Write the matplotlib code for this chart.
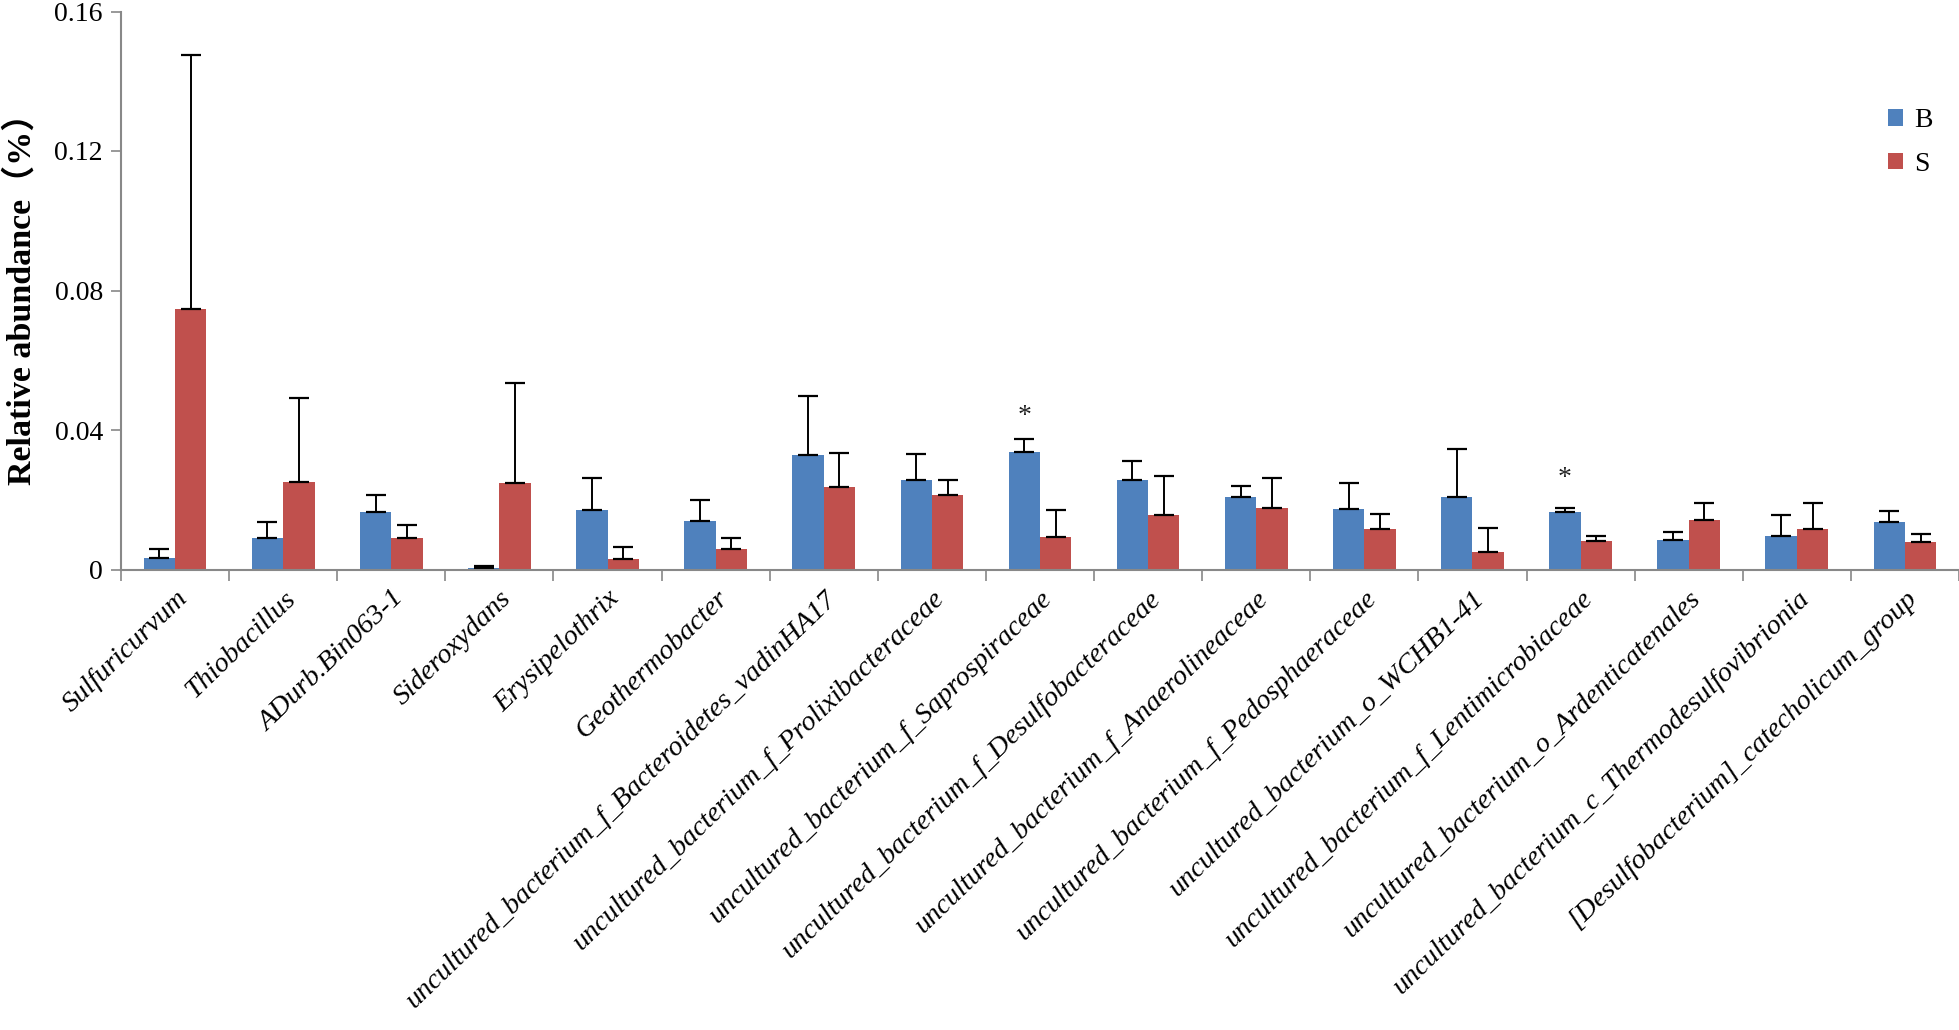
import matplotlib
matplotlib.use("Agg")
import matplotlib.pyplot as plt
import numpy as np

categories = [
    "Sulfuricurvum", "Thiobacillus", "ADurb.Bin063-1", "Sideroxydans",
    "Erysipelothrix", "Geothermobacter",
    "uncultured_bacterium_f_Bacteroidetes_vadinHA17",
    "uncultured_bacterium_f_Prolixibacteraceae",
    "uncultured_bacterium_f_Saprospiraceae",
    "uncultured_bacterium_f_Desulfobacteraceae",
    "uncultured_bacterium_f_Anaerolineaceae",
    "uncultured_bacterium_f_Pedosphaeraceae",
    "uncultured_bacterium_o_WCHB1-41",
    "uncultured_bacterium_f_Lentimicrobiaceae",
    "uncultured_bacterium_o_Ardenticatenales",
    "uncultured_bacterium_c_Thermodesulfovibrionia",
    "[Desulfobacterium]_catecholicum_group",
]
B_mean = [0.0034, 0.0089, 0.0166, 0.0005, 0.0172, 0.0140, 0.0328, 0.0257, 0.0336,
          0.0257, 0.0209, 0.0173, 0.0209, 0.0165, 0.0085, 0.0097, 0.0137]
B_err = [0.0026, 0.0048, 0.0049, 0.0004, 0.0090, 0.0058, 0.0170, 0.0074, 0.0038,
         0.0054, 0.0030, 0.0075, 0.0137, 0.0010, 0.0023, 0.0059, 0.0031]
S_mean = [0.0747, 0.0252, 0.0089, 0.0248, 0.0029, 0.0060, 0.0237, 0.0213, 0.0092,
          0.0157, 0.0176, 0.0117, 0.0050, 0.0082, 0.0141, 0.0117, 0.0078]
S_err = [0.0727, 0.0239, 0.0039, 0.0288, 0.0035, 0.0031, 0.0098, 0.0043, 0.0079,
         0.0110, 0.0087, 0.0043, 0.0069, 0.0013, 0.0051, 0.0075, 0.0023]
sig_idx = [8, 13]
sig_y = [0.0440, 0.0260]
yticks = [0, 0.04, 0.08, 0.12, 0.16]
ytick_labels = ["0", "0.04", "0.08", "0.12", "0.16"]

serif = ["Liberation Serif", "Noto Sans CJK SC", "DejaVu Serif"]
plt.rcParams["font.family"] = serif

fig = plt.figure(figsize=(19.59, 10.30), dpi=100)
ax = fig.add_axes([121 / 1959, 1 - 569.5 / 1030, 1 - 121 / 1959, (569.5 - 11.5) / 1030])

x = np.arange(len(categories))
w = 0.29
blue = "#4F81BD"
red = "#C0504D"
zeros = np.zeros(len(categories))
ekw = dict(ecolor="black", elinewidth=1.4, capsize=7, capthick=1.6)
ax.bar(x - w / 2, B_mean, w, color=blue, label="B", zorder=2, yerr=[zeros, B_err], error_kw=ekw)
ax.bar(x + w / 2, S_mean, w, color=red, label="S", zorder=2, yerr=[zeros, S_err], error_kw=ekw)

for i, yv in zip(sig_idx, sig_y):
    ax.text(x[i] - w / 2, yv, "*", ha="center", va="center", fontsize=20, color="#222222")

ax.set_xlim(-0.5, len(categories) - 0.5)
ax.set_ylim(0, 0.16)
ax.set_yticks(yticks)
ax.set_yticklabels(ytick_labels, fontsize=20)
ax.set_xticks(np.arange(-0.5, len(categories), 1.0))
ax.set_xticklabels([])
ax.set_xticks(x, minor=True)
ax.set_xticklabels(categories, minor=True, rotation=44, ha="right", va="top",
                   rotation_mode="anchor", fontsize=20.5, style="italic")
ax.tick_params(axis="x", which="minor", length=0, pad=12)
ax.tick_params(axis="x", which="major", length=8, width=1.2, color="#888888", direction="out")
ax.tick_params(axis="y", length=7, width=1.2, color="#888888", direction="out", pad=6)

for s in ["top", "right"]:
    ax.spines[s].set_visible(False)
for s in ["left", "bottom"]:
    ax.spines[s].set_color("#888888")
    ax.spines[s].set_linewidth(1.5)

ax.set_ylabel("Relative abundance（%）", fontsize=24.5, fontweight="bold", labelpad=12)

leg = ax.legend(loc="upper left", bbox_to_anchor=(1863 / 1959, 1 - 83 / 1030),
                bbox_transform=fig.transFigure, frameon=False, fontsize=20,
                handlelength=0.55, handleheight=0.55, handletextpad=0.4, labelspacing=0.68)

fig.savefig("out.png", dpi=100)
